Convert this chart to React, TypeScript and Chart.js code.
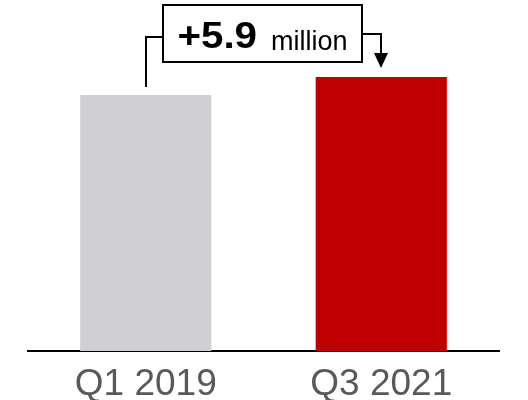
import React, { useEffect, useRef } from "react";
import { Chart, registerables } from "chart.js";

Chart.register(...registerables);

const categories = ["Q1 2019", "Q3 2021"];
const values = [84.0, 89.9];
const barColors = ["#D0D0D2", "#C00000"];
const deltaBold = "+5.9";
const deltaUnit = "million";

const FONT = "'Liberation Sans', Arial, sans-serif";

const annotationPlugin = {
  id: "deltaBox",
  afterDatasetsDraw(chart: any) {
    const meta = chart.getDatasetMeta(0);
    const b0 = meta.data[0];
    const b1 = meta.data[1];
    if (!b0 || !b1) return;
    const ctx = chart.ctx;
    const x0 = Math.round(b0.x);
    const x1 = Math.round(b1.x);
    const mid = (x0 + x1) / 2;
    const boxW = 199;
    const boxL = Math.round(mid - boxW / 2) - 1;
    const boxR = boxL + boxW;
    const boxT = 5;
    const boxB = 62;
    ctx.save();
    ctx.strokeStyle = "#000";
    ctx.lineWidth = 2;
    ctx.fillStyle = "#fff";
    ctx.fillRect(boxL, boxT, boxW, boxB - boxT);
    ctx.strokeRect(boxL, boxT, boxW, boxB - boxT);
    // left connector
    const leftY = 37;
    ctx.beginPath();
    ctx.moveTo(x0, b0.y - 8);
    ctx.lineTo(x0, leftY);
    ctx.lineTo(boxL, leftY);
    ctx.stroke();
    // right connector
    const rightY = 34;
    const tipY = b1.y - 9;
    ctx.beginPath();
    ctx.moveTo(boxR, rightY);
    ctx.lineTo(x1, rightY);
    ctx.lineTo(x1, tipY - 14);
    ctx.stroke();
    ctx.fillStyle = "#000";
    ctx.beginPath();
    ctx.moveTo(x1 - 7, tipY - 15);
    ctx.lineTo(x1 + 7, tipY - 15);
    ctx.lineTo(x1, tipY);
    ctx.closePath();
    ctx.fill();
    // text
    const sx = 1.12;
    ctx.textBaseline = "alphabetic";
    ctx.textAlign = "left";
    ctx.font = `bold 36px ${FONT}`;
    const w1 = ctx.measureText(deltaBold).width * sx;
    const gap = 14;
    ctx.font = `27px ${FONT}`;
    const w2 = ctx.measureText(deltaUnit).width;
    const total = w1 + gap + w2;
    const start = (boxL + boxR) / 2 - total / 2;
    ctx.fillStyle = "#000";
    ctx.save();
    ctx.translate(start, 48);
    ctx.scale(sx, 1);
    ctx.font = `bold 36px ${FONT}`;
    ctx.fillText(deltaBold, 0, 0);
    ctx.restore();
    ctx.font = `27px ${FONT}`;
    ctx.fillText(deltaUnit, start + w1 + gap, 50);
    ctx.restore();
  },
};

export default function App() {
  const ref = useRef<HTMLCanvasElement>(null);
  useEffect(() => {
    if (!ref.current) return;
    const chart = new Chart(ref.current, {
      type: "bar",
      data: {
        labels: categories,
        datasets: [
          {
            data: values,
            backgroundColor: barColors,
            borderWidth: 0,
            categoryPercentage: 1,
            barPercentage: 0.557,
          },
        ],
      },
      options: {
        animation: false,
        responsive: false,
        maintainAspectRatio: false,
        layout: { padding: { top: 5, left: 28, right: 29, bottom: 0 } },
        plugins: {
          legend: { display: false },
          tooltip: { enabled: false },
        },
        scales: {
          x: {
            grid: { display: false, drawTicks: false },
            border: { display: true, color: "#000", width: 2 },
            ticks: {
              color: "#595959",
              font: { family: FONT, size: 37, lineHeight: 1.0 },
              padding: 15,
            },
          },
          y: {
            display: false,
            min: 0,
            max: 113.5,
          },
        },
      },
      plugins: [annotationPlugin],
    });
    return () => chart.destroy();
  }, []);
  return (
    <div style={{ position: "fixed", left: 0, top: 0, width: 528, height: 400, overflow: "hidden", background: "#fff" }}>
      <canvas ref={ref} width={528} height={418} style={{ display: "block" }} />
    </div>
  );
}
